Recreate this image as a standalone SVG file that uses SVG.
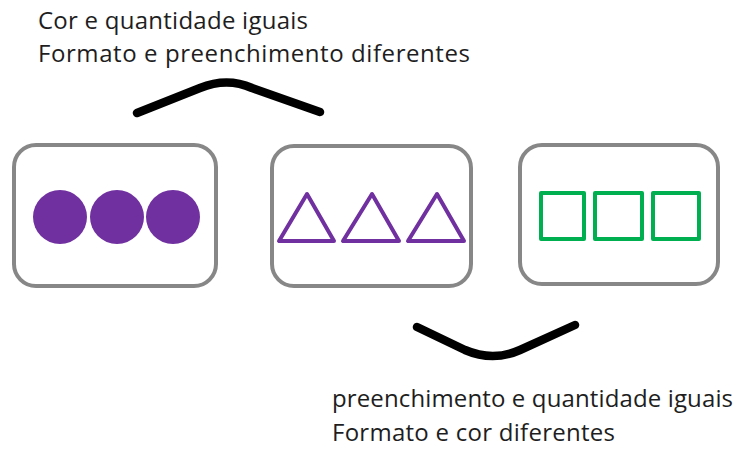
<svg xmlns="http://www.w3.org/2000/svg" width="746" height="449" viewBox="0 0 746 449">
<style>
.box{fill:#fff;stroke:#878787;stroke-width:4}
.lbl{font-family:"Open Sans","Noto Sans",sans-serif;font-size:24px;fill:#1e1e1e}
.dot{fill:#7030A0}
.tri{fill:none;stroke:#7030A0;stroke-width:4;stroke-linejoin:round}
.sq{fill:none;stroke:#00B050;stroke-width:4;stroke-linejoin:round}
.brace{fill:none;stroke:#000;stroke-width:8.5;stroke-linecap:round;stroke-linejoin:round}
</style>
<rect width="746" height="449" fill="#fff"/>
<g id="label-top">
<text class="lbl" x="38" y="29" textLength="270">Cor e quantidade iguais</text>
<text class="lbl" x="38" y="62" textLength="432">Formato e preenchimento diferentes</text>
</g>
<g id="node-circles">
<rect class="box" x="14" y="145" width="202" height="141" rx="22"/>
<circle class="dot" cx="60" cy="217" r="27"/>
<circle class="dot" cx="117" cy="217" r="27"/>
<circle class="dot" cx="173" cy="217" r="27"/>
</g>
<g id="node-triangles">
<rect class="box" x="272" y="146" width="199" height="140" rx="22"/>
<polygon class="tri" points="307,194 279,241 334,241"/>
<polygon class="tri" points="372,194 343,241 399,241"/>
<polygon class="tri" points="437,194 408,241 464,241"/>
</g>
<g id="node-squares">
<rect class="box" x="520" y="145" width="198" height="139" rx="22"/>
<rect class="sq" x="541" y="193" width="43" height="46"/>
<rect class="sq" x="595" y="193" width="47" height="46"/>
<rect class="sq" x="653" y="193" width="46" height="46"/>
</g>
<g id="connectors">
<path class="brace" d="M137,113 L200,88 Q227,77 252,88 L320,112"/>
<path class="brace" d="M417,327 L465,350 Q493,362 520,350 L575,325"/>
</g>
<g id="label-bottom">
<text class="lbl" x="332" y="407" textLength="401">preenchimento e quantidade iguais</text>
<text class="lbl" x="332" y="441" textLength="283">Formato e cor diferentes</text>
</g>
</svg>
